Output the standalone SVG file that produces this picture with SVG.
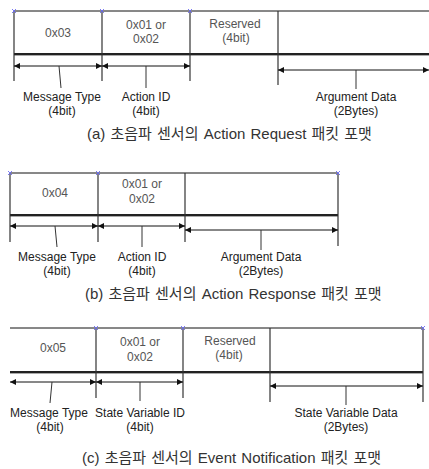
<svg xmlns="http://www.w3.org/2000/svg" width="429" height="469" viewBox="0 0 429 469">
  <style>
    .frame { stroke: #111; stroke-width: 1; fill: none; }
    .sep { stroke: #333; stroke-width: 1.2; fill: none; }
    .base { stroke: #222; stroke-width: 2; fill: none; }
    .shade { stroke: #aaa; stroke-width: 1; fill: none; }
    .dim { stroke: #111; stroke-width: 1; fill: none; marker-start: url(#ah); marker-end: url(#ah); }
    .lead { stroke: #333; stroke-width: 1; fill: none; }
    .cell { font-family: "Liberation Sans", Arial, sans-serif; font-size: 12px; fill: #555; text-anchor: middle; }
    .lbl { font-family: "Liberation Sans", Arial, sans-serif; font-size: 12px; fill: #222; text-anchor: middle; }
    .cap { font-family: "Liberation Sans", "Noto Sans CJK KR", sans-serif; font-size: 15px; word-spacing: 1px; fill: #333; }
    .sel { stroke: #6b6bf0; stroke-width: 0.9; fill: none; }
  </style>
  <defs>
    <marker id="ah" viewBox="0 0 10 10" refX="10" refY="5" markerWidth="9" markerHeight="6" markerUnits="userSpaceOnUse" orient="auto-start-reverse">
      <path d="M0,0 L10,5 L0,10 Z" fill="#111"/>
    </marker>
    <path id="x" d="M-2,-2 L2,2 M-2,2 L2,-2" class="sel"/>
  </defs>

  <!-- (a) Action Request packet -->
  <g id="packet-a">
    <line class="frame" x1="14" y1="11" x2="429" y2="11"/>
    <line class="shade" x1="14" y1="55.5" x2="429" y2="55.5"/>
    <line class="base" x1="14" y1="54" x2="429" y2="54"/>
    <line class="sep" x1="14" y1="11" x2="14" y2="81"/>
    <line class="sep" x1="102" y1="11" x2="102" y2="81"/>
    <line class="sep" x1="190" y1="11" x2="190" y2="81"/>
    <line class="sep" x1="278" y1="11" x2="278" y2="85"/>
    <use href="#x" x="14" y="11"/>
    <use href="#x" x="102" y="11"/>
    <use href="#x" x="190" y="11"/>
    <text class="cell" x="58" y="37">0x03</text>
    <text class="cell" x="146" y="29">0x01 or</text>
    <text class="cell" x="146" y="43">0x02</text>
    <text class="cell" x="235" y="28">Reserved</text>
    <text class="cell" x="236" y="42">(4bit)</text>
    <text class="lbl" x="62" y="101">Message Type</text>
    <text class="lbl" x="62" y="115">(4bit)</text>
    <text class="lbl" x="146" y="101">Action ID</text>
    <text class="lbl" x="146" y="115">(4bit)</text>
    <text class="lbl" x="356" y="101">Argument Data</text>
    <text class="lbl" x="356" y="115">(2Bytes)</text>
    <text class="cap" x="87" y="139">(a) 초음파 센서의 Action Request 패킷 포맷</text>
  </g>

  <!-- (b) Action Response packet -->
  <g id="packet-b">
    <line class="frame" x1="10" y1="173" x2="338" y2="173"/>
    <line class="shade" x1="10" y1="216.5" x2="338" y2="216.5"/>
    <line class="base" x1="10" y1="215" x2="338" y2="215"/>
    <line class="sep" x1="10" y1="173" x2="10" y2="242"/>
    <line class="sep" x1="98" y1="173" x2="98" y2="242"/>
    <line class="sep" x1="185" y1="173" x2="185" y2="242"/>
    <line class="sep" x1="338" y1="173" x2="338" y2="246"/>
    <use href="#x" x="10" y="173"/>
    <use href="#x" x="98" y="173"/>
    <use href="#x" x="338" y="173"/>
    <text class="cell" x="55" y="197">0x04</text>
    <text class="cell" x="142" y="188">0x01 or</text>
    <text class="cell" x="142" y="203">0x02</text>
    <text class="lbl" x="57" y="261">Message Type</text>
    <text class="lbl" x="57" y="275">(4bit)</text>
    <text class="lbl" x="142" y="261">Action ID</text>
    <text class="lbl" x="142" y="275">(4bit)</text>
    <text class="lbl" x="261" y="261">Argument Data</text>
    <text class="lbl" x="261" y="275">(2Bytes)</text>
    <text class="cap" x="85" y="299">(b) 초음파 센서의 Action Response 패킷 포맷</text>
  </g>

  <!-- (c) Event Notification packet -->
  <g id="packet-c">
    <line class="frame" x1="10" y1="328" x2="423" y2="328"/>
    <line class="shade" x1="10" y1="373.5" x2="423" y2="373.5"/>
    <line class="base" x1="10" y1="372" x2="423" y2="372"/>
    <line class="sep" x1="96" y1="328" x2="96" y2="398"/>
    <line class="sep" x1="183" y1="328" x2="183" y2="398"/>
    <line class="sep" x1="270" y1="328" x2="270" y2="402"/>
    <line class="sep" x1="423" y1="328" x2="423" y2="402"/>
    <use href="#x" x="96" y="328"/>
    <use href="#x" x="183" y="328"/>
    <use href="#x" x="423" y="328"/>
    <text class="cell" x="53" y="352">0x05</text>
    <text class="cell" x="140" y="346">0x01 or</text>
    <text class="cell" x="140" y="361">0x02</text>
    <text class="cell" x="230" y="345">Reserved</text>
    <text class="cell" x="229" y="359">(4bit)</text>
    <text class="lbl" x="49" y="417">Message Type</text>
    <text class="lbl" x="50" y="431">(4bit)</text>
    <text class="lbl" x="140" y="417">State Variable ID</text>
    <text class="lbl" x="140" y="431">(4bit)</text>
    <text class="lbl" x="346" y="417">State Variable Data</text>
    <text class="lbl" x="346" y="431">(2Bytes)</text>
    <text class="cap" x="82" y="463">(c) 초음파 센서의 Event Notification 패킷 포맷</text>
  </g>

  <!-- dimension arrows and leader lines -->
  <g id="connectors">
    <line class="dim" x1="14" y1="66" x2="102" y2="66"/>
    <line class="dim" x1="102" y1="66" x2="190" y2="66"/>
    <line class="dim" x1="278" y1="70" x2="429" y2="70"/>
    <line class="lead" x1="59" y1="66" x2="61" y2="88"/>
    <line class="lead" x1="146" y1="66" x2="146" y2="88"/>
    <line class="lead" x1="356" y1="70" x2="356" y2="89"/>

    <line class="dim" x1="10" y1="226" x2="98" y2="226"/>
    <line class="dim" x1="98" y1="226" x2="185" y2="226"/>
    <line class="dim" x1="185" y1="230" x2="338" y2="230"/>
    <line class="lead" x1="55" y1="226" x2="57" y2="247"/>
    <line class="lead" x1="142" y1="226" x2="142" y2="247"/>
    <line class="lead" x1="261" y1="230" x2="261" y2="250"/>

    <line class="dim" x1="10" y1="382" x2="96" y2="382"/>
    <line class="dim" x1="96" y1="382" x2="183" y2="382"/>
    <line class="dim" x1="270" y1="386" x2="423" y2="386"/>
    <line class="lead" x1="52" y1="382" x2="50" y2="403"/>
    <line class="lead" x1="140" y1="382" x2="140" y2="401"/>
    <line class="lead" x1="346" y1="386" x2="346" y2="405"/>
  </g>
</svg>
